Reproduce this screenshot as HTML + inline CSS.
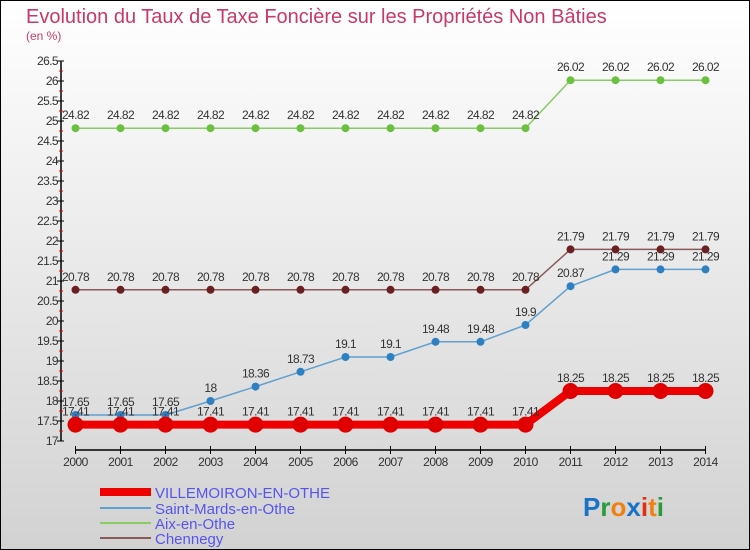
<!DOCTYPE html>
<html><head><meta charset="utf-8"><style>
body{margin:0;width:750px;height:550px;overflow:hidden}
svg{display:block;font-family:"Liberation Sans",sans-serif}
</style></head><body>
<svg id="c" width="750" height="550" viewBox="0 0 750 550">
<defs><linearGradient id="bg" x1="0" y1="0" x2="0" y2="1"><stop offset="0" stop-color="#ffffff"/><stop offset="1" stop-color="#d2d2d2"/></linearGradient></defs>
<rect x="0.5" y="0.5" width="749" height="549" fill="url(#bg)" stroke="#000"/>
<text x="26" y="23" font-size="20" fill="#c8386a">Evolution du Taux de Taxe Foncière sur les Propriétés Non Bâties</text>
<text x="26" y="40" font-size="12" fill="#c8386a">(en %)</text>
<g id="axes"></g><g id="series"></g>
<g>
<line x1="100" y1="492" x2="151" y2="492" stroke="#e00" stroke-width="8"/>
<text x="155" y="498" font-size="15" fill="#5555ee">VILLEMOIRON-EN-OTHE</text>
<line x1="100" y1="508" x2="151" y2="508" stroke="#5fa0d0" stroke-width="2"/>
<text x="155" y="514" font-size="15" fill="#5555ee">Saint-Mards-en-Othe</text>
<line x1="100" y1="523" x2="151" y2="523" stroke="#88cc66" stroke-width="2"/>
<text x="155" y="529" font-size="15" fill="#5555ee">Aix-en-Othe</text>
<line x1="100" y1="538" x2="151" y2="538" stroke="#8a5a5a" stroke-width="2"/>
<text x="155" y="544" font-size="15" fill="#5555ee">Chennegy</text>
</g>
<text x="583" y="516" font-size="26" font-weight="bold"><tspan fill="#1a72c8">P</tspan><tspan fill="#2a9a3a">r</tspan><tspan fill="#f08010">o</tspan><tspan fill="#1a72c8">x</tspan><tspan fill="#e03010">i</tspan><tspan fill="#f08010">t</tspan><tspan fill="#2a9a3a">i</tspan></text>
</svg>
<script>
const years=[2000,2001,2002,2003,2004,2005,2006,2007,2008,2009,2010,2011,2012,2013,2014];
const villemoiron=[17.41,17.41,17.41,17.41,17.41,17.41,17.41,17.41,17.41,17.41,17.41,18.25,18.25,18.25,18.25];
const saintMards=[17.65,17.65,17.65,18,18.36,18.73,19.1,19.1,19.48,19.48,19.9,20.87,21.29,21.29,21.29];
const aix=[24.82,24.82,24.82,24.82,24.82,24.82,24.82,24.82,24.82,24.82,24.82,26.02,26.02,26.02,26.02];
const chennegy=[20.78,20.78,20.78,20.78,20.78,20.78,20.78,20.78,20.78,20.78,20.78,21.79,21.79,21.79,21.79];
const yTicks=[17,17.5,18,18.5,19,19.5,20,20.5,21,21.5,22,22.5,23,23.5,24,24.5,25,25.5,26,26.5];
const NS="http://www.w3.org/2000/svg";
const X=i=>75.5+i*45, Y=v=>441-(v-17)*40;
function mk(t,a,p){const e=document.createElementNS(NS,t);for(const k in a)e.setAttribute(k,a[k]);p.appendChild(e);return e;}
const ax=document.getElementById('axes');
let e=mk('line',{x1:61,y1:Y(26.5),x2:61,y2:Y(17),stroke:'#000','stroke-width':1.5},ax);


yTicks.forEach((v,k)=>{
 let t=mk('line',{x1:57,y1:Y(v),x2:64,y2:Y(v),stroke:'#000'},ax);
 
 
 if(k<yTicks.length-1){
  let m=mk('line',{x1:59,y1:Y(v+0.25),x2:63,y2:Y(v+0.25),stroke:'#e00'},ax);
  
  
 }
 let l=mk('text',{x:58,y:Y(v)+4,'font-size':12,fill:'#333','text-anchor':'end','letter-spacing':'-0.6'},ax);
 l.textContent=v;
 
 
});
e=mk('line',{x1:X(0),y1:450,x2:X(14),y2:450,stroke:'#000','stroke-width':1.5},ax);


years.forEach((y,i)=>{
 let t=mk('line',{x1:X(i),y1:446,x2:X(i),y2:454,stroke:'#000'},ax);
 
 
 let l=mk('text',{x:X(i),y:466,'font-size':12,fill:'#333','text-anchor':'middle','letter-spacing':'-0.5'},ax);
 l.textContent=y;
 
 
});
const sg=document.getElementById('series');
function draw(vals,color,dot,w,r,name){
 const g=mk('g',{},sg);
 
 
 let p=mk('polyline',{points:vals.map((v,i)=>X(i)+','+Y(v)).join(' '),fill:'none',stroke:color,'stroke-width':w},g);
 
 
 vals.forEach((v,i)=>{
  let c=mk('circle',{cx:X(i),cy:Y(v),r:r,fill:dot},g);
  
  
  let l=mk('text',{x:X(i),y:Y(v)-9,'font-size':12,fill:'#333','text-anchor':'middle','letter-spacing':'-0.6'},g);
  l.textContent=v;
  
  
 });
}
draw(aix,'#88cc66','#6cc040',1.5,4,'aix');
draw(chennegy,'#8a5a5a','#6a2020',1.5,4,'chennegy');
draw(saintMards,'#5fa0d0','#2f80c0',1.5,4,'saint-mards');
draw(villemoiron,'#ee0000','#e00000',8,8,'villemoiron');
</script>
</body></html>
